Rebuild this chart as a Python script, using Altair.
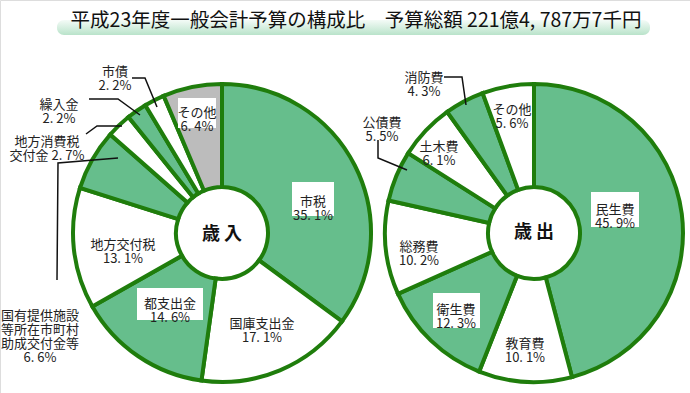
import altair as alt
import pandas as pd

# ---------------- data ----------------
rev_names = ["市税", "国庫支出金", "都支出金", "地方交付税",
             "国有提供施設等所在市町村助成交付金等", "地方消費税交付金",
             "繰入金", "市債", "その他"]
rev_values = [35.1, 17.1, 14.6, 13.1, 6.6, 2.7, 2.2, 2.2, 6.4]

exp_names = ["民生費", "教育費", "衛生費", "総務費", "公債費", "土木費", "消防費", "その他"]
exp_values = [45.9, 10.1, 12.3, 10.2, 5.5, 6.1, 4.3, 5.6]

title_text = "平成23年度一般会計予算の構成比　予算総額 221億4, 787万7千円"
center_rev = "歳 入"
center_exp = "歳 出"

# ---------------- styles / layout ----------------
GREEN = "#66be8c"
WHITE = "#ffffff"
GRAY = "#bcbcbc"
STROKE = "#1f7d0c"
FONT = "Noto Sans CJK JP"

rev_fill = [GREEN, WHITE, GREEN, WHITE, GREEN, WHITE, GREEN, WHITE, GRAY]
exp_fill = [GREEN, WHITE, GREEN, WHITE, GREEN, WHITE, GREEN, WHITE]

CY = 233
REV_CX, EXP_CX = 222, 534
R_OUT, R_IN = 149, 46

# how each name is broken into lines for display
rev_display = ["市税", "国庫支出金", "都支出金", "地方交付税",
               "国有提供施設\n等所在市町村\n助成交付金等", "地方消費税\n交付金 {p}",
               "繰入金", "市債", "その他"]
exp_display = ["民生費", "教育費", "衛生費", "総務費", "公債費", "土木費", "消防費", "その他"]

rev_label_pos = [(313, 202), (262, 324), (170, 304), (123, 245), (40, 316),
                 (47, 142), (59, 105), (115, 72), (197, 113)]
exp_label_pos = [(615, 210), (525, 344), (456, 310), (419, 247), (382, 123),
                 (439, 147), (424, 78), (512, 110)]

# white boxes behind labels sitting on coloured slices (x1, x2, y1, y2)
boxes = [(292, 334, 182, 216), (137, 203, 288, 320), (178, 216, 98, 128),
         (591, 639, 192, 227), (433, 480, 293, 328)]

leaders = [
    [(118, 158), (58, 163), (57, 280)],
    [(86, 134), (97, 126), (122, 126)],
    [(89, 99), (118, 99), (140, 115)],
    [(132, 78), (145, 78), (157, 107)],
    [(378, 140), (378, 158), (407, 170)],
    [(444, 77), (462, 77), (466, 105)],
]


def pct(v):
    return f"{v:.1f}".replace(".", ". ") + "%"


def label_text(disp, v):
    if "{p}" in disp:
        return disp.replace("{p}", pct(v))
    return disp + "\n" + pct(v)


# ---------------- tables ----------------
rev_df = pd.DataFrame({"name": rev_names, "value": rev_values,
                       "fill": rev_fill, "idx": range(len(rev_names))})
exp_df = pd.DataFrame({"name": exp_names, "value": exp_values,
                       "fill": exp_fill, "idx": range(len(exp_names))})

labels_df = pd.DataFrame(
    [{"t": label_text(d, v), "x": p[0], "y": p[1]}
     for d, v, p in zip(rev_display, rev_values, rev_label_pos)]
    + [{"t": label_text(d, v), "x": p[0], "y": p[1]}
       for d, v, p in zip(exp_display, exp_values, exp_label_pos)]
)

boxes_df = pd.DataFrame(boxes, columns=["x1", "x2", "y1", "y2"])

lead_rows = []
for i, pts in enumerate(leaders):
    for k, (x, y) in enumerate(pts):
        lead_rows.append({"id": i, "k": k, "x": x, "y": y})
lead_df = pd.DataFrame(lead_rows)

X = lambda f: alt.X(f, scale=None, axis=None)
Y = lambda f: alt.Y(f, scale=None, axis=None)


def pie(df, cx):
    return alt.Chart(df).mark_arc(
        radius=R_OUT, innerRadius=R_IN, stroke=STROKE, strokeWidth=4
    ).encode(
        theta=alt.Theta("value:Q", stack=True),
        order=alt.Order("idx:Q"),
        fill=alt.Fill("fill:N", scale=None),
        x=alt.value(cx),
        y=alt.value(CY),
    )


title_bg = alt.Chart(pd.DataFrame({"a": [0]})).mark_rect(
    cornerRadius=7,
    color=alt.LinearGradient(
        gradient="linear", x1=0, x2=0, y1=0, y2=1,
        stops=[alt.GradientStop(color="#f4fbf7", offset=0),
               alt.GradientStop(color="#b9e3ca", offset=1)],
    ),
).encode(x=alt.value(57), x2=alt.value(650), y=alt.value(20), y2=alt.value(35))

title = alt.Chart(pd.DataFrame({"t": [title_text]})).mark_text(
    font=FONT, fontSize=19.5, color="#111111", baseline="middle", align="center"
).encode(text="t:N", x=alt.value(356), y=alt.value(21))

box_layer = alt.Chart(boxes_df).mark_rect(color="white").encode(
    x=X("x1:Q"), x2="x2:Q", y=Y("y1:Q"), y2="y2:Q")

lead_layer = alt.Chart(lead_df).mark_line(color="#111111", strokeWidth=1.5).encode(
    x=X("x:Q"), y=Y("y:Q"), detail="id:N", order="k:Q")

label_layer = alt.Chart(labels_df).mark_text(
    font=FONT, fontSize=13, lineHeight=14, lineBreak="\n",
    color="#222222", align="center", baseline="middle"
).encode(x=X("x:Q"), y=Y("y:Q"), text="t:N")

centers = alt.Chart(pd.DataFrame({"t": [center_rev, center_exp],
                                  "x": [REV_CX, EXP_CX], "y": [CY + 2, CY]})).mark_text(
    font=FONT, fontSize=18, fontWeight="bold", color="#111111",
    align="center", baseline="middle"
).encode(x=X("x:Q"), y=Y("y:Q"), text="t:N")

chart = alt.layer(
    title_bg, title, pie(rev_df, REV_CX), pie(exp_df, EXP_CX),
    box_layer, lead_layer, label_layer, centers
).resolve_scale(theta="independent").properties(
    width=690, height=393, padding=0, autosize=alt.AutoSizeParams(type="none")
).configure_view(stroke=None).configure(background="white")

chart.save("out.html", embed_options={"renderer": "svg", "actions": False})
